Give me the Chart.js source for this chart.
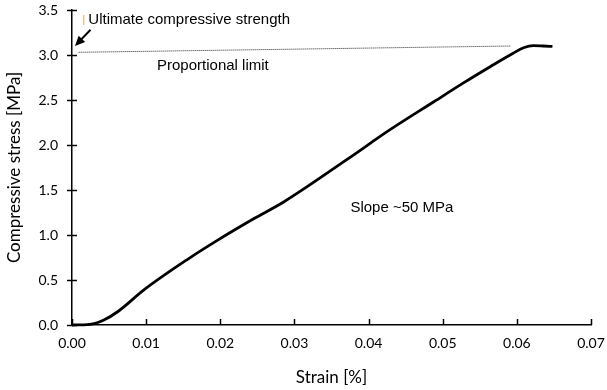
<!DOCTYPE html>
<html>
<head>
<meta charset="utf-8">
<script src="https://cdn.jsdelivr.net/npm/chart.js@4/dist/chart.umd.min.js"></script>
<style>
html,body{margin:0;padding:0;background:#fff;}
#wrap{width:607px;height:390px;}
</style>
</head>
<body>
<div id="wrap"><canvas id="c" width="607" height="390"></canvas></div>
<script>
// Stress-strain curve
const strain = [0, 0.0015, 0.003, 0.0043, 0.0062, 0.0097, 0.0156, 0.0196, 0.0245, 0.0286, 0.0371, 0.0429, 0.0488, 0.0528, 0.0564, 0.0595, 0.0609, 0.0622, 0.0636, 0.0648];
const stress = [0, 0.002, 0.015, 0.055, 0.15, 0.39, 0.73, 0.94, 1.18, 1.37, 1.84, 2.17, 2.48, 2.69, 2.87, 3.02, 3.08, 3.105, 3.10, 3.095];

// Proportional limit (dotted) line
const limitStrain = [0.0009, 0.0592];
const limitStress = [3.03, 3.10];

// Axis ticks
const xTickValues = [0, 0.01, 0.02, 0.03, 0.04, 0.05, 0.06, 0.07];
const xTickLabels = ['0.00', '0.01', '0.02', '0.03', '0.04', '0.05', '0.06', '0.07'];
const yTickValues = [0, 0.5, 1, 1.5, 2, 2.5, 3, 3.5];
const yTickLabels = ['0.0', '0.5', '1.0', '1.5', '2.0', '2.5', '3.0', '3.5'];

// Annotation texts and anchors (data coordinates)
const labelTexts = ['Ultimate compressive strength', 'Proportional limit', 'Slope ~50 MPa'];
const labelStrain = [0.0022, 0.0190, 0.0445];
const labelStress = [3.39, 2.88, 1.30];
const arrowStrain = [0.0025, 0.0004];
const arrowStress = [3.28, 3.10];

const curve = strain.map((x, i) => ({x: x, y: stress[i]}));
const limitLine = limitStrain.map((x, i) => ({x: x, y: limitStress[i]}));

const annotate = {
  id: 'annotate',
  afterDraw(chart) {
    const ctx = chart.ctx;
    const xs = chart.scales.x, ys = chart.scales.y;
    ctx.save();
    // tick marks
    ctx.strokeStyle = '#000';
    ctx.lineWidth = 1.5;
    const yAxisX = xs.getPixelForValue(0);
    const xAxisY = ys.getPixelForValue(0);
    yTickValues.forEach(v => {
      const py = Math.round(ys.getPixelForValue(v)) + 0.5;
      ctx.beginPath(); ctx.moveTo(yAxisX - 5, py); ctx.lineTo(yAxisX + 5, py); ctx.stroke();
    });
    xTickValues.forEach(v => {
      const px = Math.round(xs.getPixelForValue(v)) + 0.5;
      ctx.beginPath(); ctx.moveTo(px, xAxisY); ctx.lineTo(px, xAxisY - 6); ctx.stroke();
    });
    // texts
    ctx.fillStyle = '#000';
    ctx.font = '15px "Liberation Sans", Arial, sans-serif';
    ctx.textBaseline = 'middle';
    labelTexts.forEach((t, i) => {
      const px = xs.getPixelForValue(labelStrain[i]);
      const py = ys.getPixelForValue(labelStress[i]);
      ctx.textAlign = i === 0 ? 'left' : 'center';
      ctx.fillText(t, px, py);
    });
    // small orange mark before first label
    const mx = xs.getPixelForValue(labelStrain[0]) - 4.5;
    const my = ys.getPixelForValue(labelStress[0]);
    ctx.strokeStyle = '#f0a050';
    ctx.lineWidth = 1;
    ctx.beginPath(); ctx.moveTo(mx, my - 5); ctx.lineTo(mx, my + 5); ctx.stroke();
    // arrow
    const ax0 = xs.getPixelForValue(arrowStrain[0]), ay0 = ys.getPixelForValue(arrowStress[0]);
    const ax1 = xs.getPixelForValue(arrowStrain[1]), ay1 = ys.getPixelForValue(arrowStress[1]);
    const ang = Math.atan2(ay1 - ay0, ax1 - ax0);
    ctx.strokeStyle = '#000';
    ctx.fillStyle = '#000';
    ctx.lineWidth = 2;
    ctx.beginPath();
    ctx.moveTo(ax0, ay0);
    ctx.lineTo(ax1 - 6 * Math.cos(ang), ay1 - 6 * Math.sin(ang));
    ctx.stroke();
    ctx.beginPath();
    ctx.moveTo(ax1, ay1);
    ctx.lineTo(ax1 - 10 * Math.cos(ang) + 4.5 * Math.sin(ang), ay1 - 10 * Math.sin(ang) - 4.5 * Math.cos(ang));
    ctx.lineTo(ax1 - 10 * Math.cos(ang) - 4.5 * Math.sin(ang), ay1 - 10 * Math.sin(ang) + 4.5 * Math.cos(ang));
    ctx.closePath();
    ctx.fill();
    ctx.restore();
  }
};

new Chart(document.getElementById('c'), {
  type: 'line',
  data: {
    datasets: [
      {
        data: curve,
        borderColor: '#000',
        borderWidth: 2.8,
        pointRadius: 0,
        cubicInterpolationMode: 'monotone',
        fill: false,
        clip: false
      },
      {
        data: limitLine,
        borderColor: '#222',
        borderWidth: 1,
        borderDash: [1, 1],
        pointRadius: 0,
        fill: false
      }
    ]
  },
  options: {
    responsive: false,
    animation: false,
    devicePixelRatio: 1,
    layout: {padding: 0},
    plugins: {legend: {display: false}, tooltip: {enabled: false}},
    scales: {
      x: {
        type: 'linear',
        min: 0, max: 0.07,
        afterFit(s) { s.height = 65; s.paddingLeft = 0; s.paddingRight = 16; },
        afterBuildTicks(s) { s.ticks = xTickValues.map(v => ({value: v})); },
        ticks: {
          color: '#000',
          padding: 10,
          font: {family: 'Lato', size: 14},
          maxRotation: 0,
          callback: (v) => xTickLabels[xTickValues.indexOf(v)] ?? ''
        },
        grid: {display: true, drawOnChartArea: false, drawTicks: false},
        border: {display: true, color: '#000', width: 1.5},
        title: {display: true, text: 'Strain [%]', color: '#000', font: {family: 'Lato', size: 17}, padding: {top: 0, bottom: 2}}
      },
      y: {
        type: 'linear',
        min: 0, max: 3.5,
        afterFit(s) { s.width = 72; s.paddingTop = 10; s.paddingBottom = 0; },
        afterBuildTicks(s) { s.ticks = yTickValues.map(v => ({value: v})); },
        ticks: {
          color: '#000',
          padding: 14,
          font: {family: 'Lato', size: 14},
          callback: (v) => yTickLabels[yTickValues.indexOf(v)] ?? ''
        },
        grid: {display: true, drawOnChartArea: false, drawTicks: false},
        border: {display: true, color: '#000', width: 1.5},
        title: {display: true, text: 'Compressive stress [MPa]', color: '#000', font: {family: 'Lato', size: 17}, padding: {top: 4, bottom: 0}}
      }
    }
  },
  plugins: [annotate]
});
</script>
</body>
</html>
